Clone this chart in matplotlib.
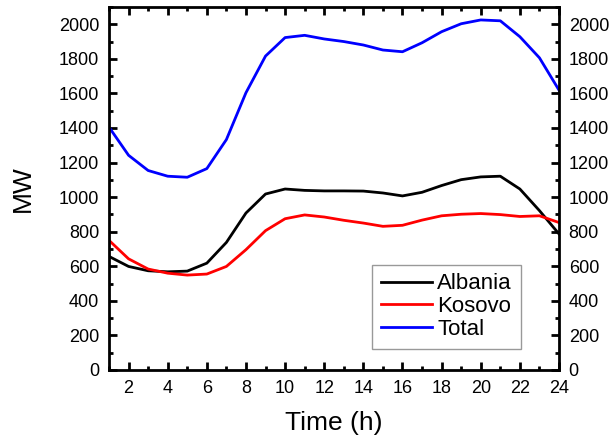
import numpy as np
import matplotlib
matplotlib.use('Agg')
import matplotlib.pyplot as plt
from matplotlib.ticker import MultipleLocator

# hourly load (MW)
hours = list(range(1, 25))
albania = [657, 599, 574, 568, 572, 618, 738, 908, 1018, 1047, 1039, 1036,
           1036, 1035, 1024, 1007, 1028, 1067, 1101, 1117, 1121, 1047, 922, 787]
kosovo = [750, 643, 584, 560, 549, 555, 599, 696, 806, 875, 897, 885,
          866, 850, 831, 837, 867, 892, 901, 905, 899, 888, 892, 853]
total = [1405, 1242, 1154, 1121, 1115, 1165, 1333, 1604, 1816, 1923, 1936, 1915,
         1900, 1880, 1851, 1841, 1893, 1957, 2003, 2025, 2020, 1928, 1806, 1619]

plt.rcParams['font.family'] = ['Liberation Sans', 'DejaVu Sans']

fig = plt.figure(figsize=(6.1, 4.36), dpi=100)
ax = fig.add_axes([0.1787, 0.1514, 0.7377, 0.8326])

ax.plot(hours, albania, color='black', lw=2, label='Albania')
ax.plot(hours, kosovo, color='#ff0000', lw=2, label='Kosovo')
ax.plot(hours, total, color='#0000ff', lw=2, label='Total')

ax.set_xlim(1, 24)
ax.set_ylim(0, 2100)
ax.xaxis.set_minor_locator(MultipleLocator(1))
ax.yaxis.set_minor_locator(MultipleLocator(100))
ax.set_xticks(range(2, 25, 2))
ax.set_yticks(range(0, 2001, 200))

ax.tick_params(which='both', direction='in', top=True, right=True,
               labelright=True, width=2)
ax.tick_params(which='major', length=6, labelsize=13, pad=7)
ax.tick_params(which='minor', length=3)
for s in ax.spines.values():
    s.set_linewidth(2)

ax.set_xlabel('Time (h)', fontsize=19, labelpad=10)
ax.set_ylabel('MW', fontsize=19, labelpad=17)

leg = ax.legend(loc='lower right', bbox_to_anchor=(0.915, 0.058), fontsize=16,
                frameon=True, fancybox=False, edgecolor='#808080',
                handlelength=2.3, handletextpad=0.25, borderpad=0.4,
                labelspacing=0.08, borderaxespad=0)
leg.get_frame().set_linewidth(1)

fig.savefig('out.png', dpi=100)
